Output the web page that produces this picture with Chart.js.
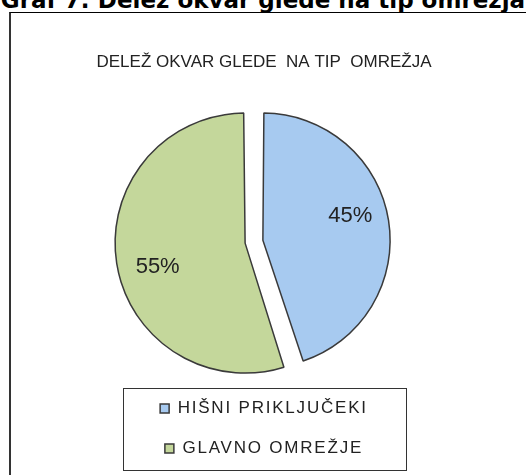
<!DOCTYPE html>
<html><head><meta charset="utf-8">
<script src="https://cdn.jsdelivr.net/npm/chart.js@4"></script>
<style>
html,body{margin:0;padding:0;background:#fff;width:526px;height:475px;overflow:hidden;}
#hdr{position:absolute;left:0;width:526px;top:-11px;text-align:center;font:bold 23px/23px "DejaVu Sans";color:#000;white-space:nowrap;}
#frame{position:absolute;left:9px;top:12px;width:700px;height:700px;border-top:1px solid #000;border-left:2px solid #333;}
#wrap{position:absolute;left:74px;top:0;width:380px;height:475px;}
</style></head>
<body>
<div id="hdr">Graf 7: Delež okvar glede na tip omrežja</div>
<div id="frame"></div>
<div id="wrap"><canvas id="c" width="380" height="475"></canvas></div>
<script>
// ---- data ----
const categories = ['HIŠNI PRIKLJUČEKI', 'GLAVNO OMREŽJE'];
const shares = [45, 55];
const sliceColors = ['#A7CAF0', '#C4D79B'];
const chartTitle = 'DELEŽ OKVAR GLEDE  NA TIP  OMREŽJA';

// ---- style constants ----
const EXPLODE_PX = 9;
const PIE_RADIUS = 121;
const PIE_SHIFT_X = 10;
const LEGEND_SPACING = '1.8px';
const LABEL_ANGLE_SHIFT = -6.5 * Math.PI / 180;
const LABEL_RADIUS_FRAC = 0.75;
const LEGEND_FRAME_EXTRA = 75;

const tweaks = {
  id: 'tweaks',
  beforeLayout(chart) { chart.ctx.letterSpacing = LEGEND_SPACING; },
  afterLayout(chart) {
    chart.ctx.letterSpacing = '0px';
    chart.chartArea.left -= PIE_SHIFT_X;
    chart.chartArea.right -= PIE_SHIFT_X;
  },
  beforeDraw(chart) {
    const lg = chart.legend;
    if (lg && !lg.__ls) {
      const orig = lg.draw;
      lg.draw = function () {
        const c = this.ctx;
        c.save();
        c.letterSpacing = LEGEND_SPACING;
        orig.apply(this, arguments);
        c.restore();
      };
      lg.__ls = true;
    }
  },
  afterDatasetsDraw(chart) {
    const meta = chart.getDatasetMeta(0);
    const ctx = chart.ctx;
    ctx.save();
    ctx.letterSpacing = '0px';
    ctx.font = '22px "Liberation Sans", Arial, sans-serif';
    ctx.fillStyle = '#222';
    ctx.textAlign = 'center';
    ctx.textBaseline = 'middle';
    meta.data.forEach((arc, i) => {
      const mid = (arc.startAngle + arc.endAngle) / 2;
      const ox = arc.x + Math.cos(mid) * EXPLODE_PX;
      const oy = arc.y + Math.sin(mid) * EXPLODE_PX;
      const a = mid + LABEL_ANGLE_SHIFT;
      const r = arc.outerRadius * LABEL_RADIUS_FRAC;
      ctx.fillText(shares[i] + '%', ox + Math.cos(a) * r, oy + Math.sin(a) * r);
    });
    ctx.restore();
  },
  afterDraw(chart) {
    const lg = chart.legend;
    const ctx = chart.ctx;
    const boxes = lg.legendHitBoxes;
    const cx = (lg.left + lg.right) / 2;
    const maxW = Math.max(...boxes.map(b => b.width));
    const w = Math.round(maxW + LEGEND_FRAME_EXTRA);
    const top = Math.round(lg.top + 11);
    const bottom = Math.round(lg.bottom + 3);
    ctx.save();
    ctx.strokeStyle = '#333';
    ctx.lineWidth = 1;
    ctx.strokeRect(Math.round(cx - w / 2) + 0.5, top + 0.5, w, bottom - top);
    ctx.restore();
  }
};

new Chart(document.getElementById('c'), {
  type: 'pie',
  data: {
    labels: categories,
    datasets: [{
      data: shares,
      backgroundColor: sliceColors,
      borderColor: '#3a3a3a',
      borderWidth: 1.5,
      offset: EXPLODE_PX * 4,
      hoverOffset: EXPLODE_PX * 4,
      radius: PIE_RADIUS
    }]
  },
  options: {
    responsive: false,
    animation: false,
    layout: { padding: { bottom: 8 } },
    plugins: {
      title: {
        display: true,
        text: chartTitle,
        color: '#222',
        font: { family: 'Liberation Sans', size: 17, weight: 'normal', lineHeight: 1.2 },
        padding: { top: 52, bottom: 34 }
      },
      legend: {
        position: 'bottom',
        labels: {
          boxWidth: 9,
          boxHeight: 9,
          padding: 23,
          color: '#222',
          font: { family: 'Liberation Sans', size: 17 }
        }
      },
      tooltip: { enabled: false }
    }
  },
  plugins: [tweaks]
});
</script>
</body></html>
